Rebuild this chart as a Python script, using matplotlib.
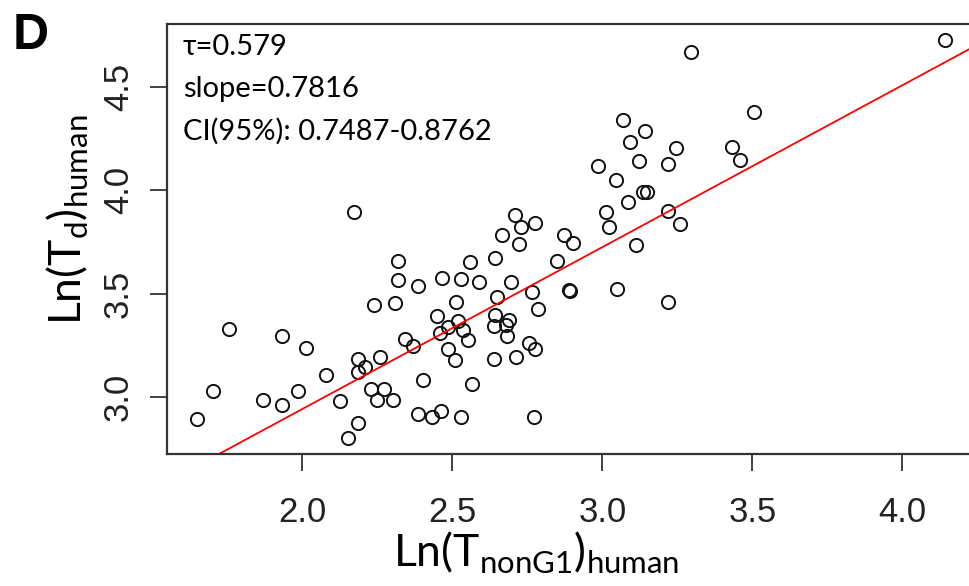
import matplotlib
matplotlib.use("Agg")
import matplotlib.pyplot as plt
from matplotlib import font_manager
import numpy as np

# Ln(T_nonG1) vs Ln(Td), human
x_nong1 = [4.142, 3.297, 3.507, 3.070, 3.141, 3.091, 3.247, 3.433, 3.122, 3.220,
           3.460, 2.987, 3.046, 3.137, 3.150, 3.087, 3.220, 3.012, 3.259, 3.022,
           2.871, 2.903, 3.111, 2.173, 2.709, 2.729, 2.776, 2.667, 2.722, 2.849,
           2.319, 2.641, 2.559, 2.319, 2.467, 2.528, 2.590, 2.696, 2.387, 2.767,
           2.648, 2.240, 2.310, 2.511, 2.786, 2.450, 2.641, 2.520, 2.690, 2.485,
           2.640, 2.678, 2.459, 2.535, 2.682, 2.341, 2.551, 1.757, 1.931, 2.011,
           2.370, 2.487, 2.755, 2.775, 2.184, 2.259, 2.510, 2.640, 2.711, 2.209,
           2.184, 2.078, 2.403, 2.566, 1.703, 1.985, 2.228, 2.271, 1.870, 2.126,
           2.249, 2.301, 1.931, 1.648, 2.387, 2.431, 2.461, 2.528, 2.773, 2.184,
           2.151, 2.890, 2.893, 3.050, 3.220]
y_td = [4.725, 4.669, 4.375, 4.340, 4.284, 4.234, 4.205, 4.207, 4.141, 4.128,
        4.143, 4.116, 4.047, 3.990, 3.990, 3.942, 3.899, 3.893, 3.835, 3.823,
        3.781, 3.743, 3.734, 3.893, 3.880, 3.823, 3.841, 3.782, 3.740, 3.656,
        3.660, 3.671, 3.651, 3.567, 3.575, 3.572, 3.554, 3.556, 3.536, 3.509,
        3.485, 3.443, 3.455, 3.461, 3.426, 3.394, 3.396, 3.366, 3.371, 3.341,
        3.343, 3.348, 3.312, 3.326, 3.297, 3.282, 3.275, 3.330, 3.294, 3.240,
        3.249, 3.233, 3.262, 3.232, 3.186, 3.194, 3.179, 3.185, 3.193, 3.148,
        3.123, 3.105, 3.081, 3.062, 3.031, 3.031, 3.038, 3.041, 2.986, 2.982,
        2.989, 2.988, 2.961, 2.897, 2.919, 2.905, 2.936, 2.907, 2.906, 2.874,
        2.803, 3.516, 3.511, 3.522, 3.461]

tau = 0.579
slope = 0.7816
intercept = 1.38
ci_low, ci_high = 0.7487, 0.8762

xticks = [2.0, 2.5, 3.0, 3.5, 4.0]
yticks = [3.0, 3.5, 4.0, 4.5]

installed = {f.name for f in font_manager.fontManager.ttflist}
txt_font = ["Lato", "DejaVu Sans"]
if "Liberation Sans Narrow" in installed:
    tick_font = ["Liberation Sans Narrow", "DejaVu Sans"]
    tick_size = 29
else:
    tick_font = ["Liberation Sans", "DejaVu Sans"]
    tick_size = 25

W, H = 970, 586
fig = plt.figure(figsize=(W / 100, H / 100), dpi=100)
# right edge of the box falls just outside the picture, as in the source
ax = fig.add_axes([166.7 / W, 1 - 454 / H, (975 - 166.7) / W, 430 / H])

ax.plot(x_nong1, y_td, linestyle="none", marker="o", markersize=9.5,
        markerfacecolor="none", markeredgecolor="#111111", markeredgewidth=1.4)

xl = np.array([1.548, 4.242])
ax.plot(xl, slope * xl + intercept, color="red", linewidth=1.3)

ax.set_xlim(1.548, 4.242)
ax.set_ylim(2.726, 4.802)
ax.set_xticks(xticks)
ax.set_yticks(yticks)
ax.set_xticklabels([f"{v:.1f}" for v in xticks], family=tick_font, fontsize=tick_size,
                   color="#222222")
ax.set_yticklabels([f"{v:.1f}" for v in yticks], family=tick_font, fontsize=tick_size,
                   rotation=90, va="center", color="#222222")
ax.tick_params(axis="both", direction="out", length=12, width=1.3, color="#333333")
ax.tick_params(axis="x", pad=18)
ax.tick_params(axis="y", pad=11)
for s in ax.spines.values():
    s.set_linewidth(1.6)
    s.set_color("#333333")

fig.text(536 / W, 1 - 553 / H, r"Ln(T$_{\mathregular{nonG1}}$)$_{\mathregular{human}}$",
         family=txt_font, fontsize=32, ha="center", va="center")
fig.text(68 / W, 1 - 220 / H, r"Ln(T$_{\mathregular{d}}$)$_{\mathregular{human}}$",
         family=txt_font, fontsize=32, ha="center", va="center", rotation=90)

ax.text(0.020, 0.928, f"\u03c4={tau}", transform=ax.transAxes, family=txt_font,
        fontsize=21, va="baseline", ha="left")
ax.text(0.020, 0.830, f"slope={slope}", transform=ax.transAxes, family=txt_font,
        fontsize=21, va="baseline", ha="left")
ax.text(0.020, 0.730, f"CI(95%): {ci_low}-{ci_high}", transform=ax.transAxes,
        family=txt_font, fontsize=21, va="baseline", ha="left")

fig.text(13 / W, 1 - 13 / H, "D", family=["Liberation Sans", "DejaVu Sans"],
         fontsize=36, fontweight="bold", va="top", ha="left")

fig.savefig("out.png", dpi=100)
